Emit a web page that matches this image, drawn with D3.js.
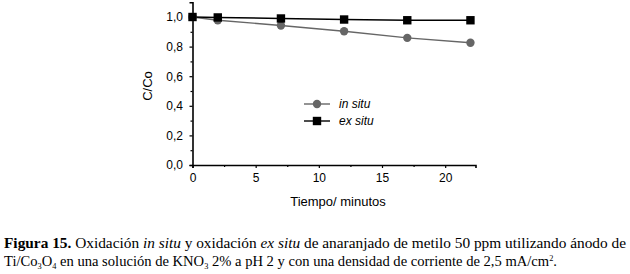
<!DOCTYPE html>
<html><head><meta charset="utf-8">
<script src="https://cdn.jsdelivr.net/npm/d3@7"></script>
<style>body{margin:0;background:#fff}svg{display:block}</style>
</head><body>
<svg id="c" width="630" height="274"></svg>
<script>
const time = [0, 2, 7, 12, 17, 22];
const inSitu = [1.0, 0.978, 0.943, 0.904, 0.859, 0.826];
const exSitu = [1.0, 0.997, 0.99, 0.983, 0.978, 0.978];
const xTicks = [0, 5, 10, 15, 20];
const yTicks = [0, 0.2, 0.4, 0.6, 0.8, 1.0];
const seriesNames = ["in situ", "ex situ"];

const svg = d3.select("#c");
const x = d3.scaleLinear().domain([0, 22.4]).range([192.5, 475.5]);
const y = d3.scaleLinear().domain([0, 1.1]).range([165, 2.2]);
const fmt = d => d3.format(".1f")(d).replace(".", ",");
const sans = "Liberation Sans, Arial, sans-serif";

// axes
const gx = svg.append("g").attr("transform", `translate(0,${y(0)})`)
  .call(d3.axisBottom(x).tickValues(xTicks).tickSize(3).tickFormat(d3.format("d")));
const gxm = svg.append("g").attr("transform", `translate(0,${y(0)})`)
  .call(d3.axisBottom(x).tickValues([2.5, 7.5, 12.5, 17.5]).tickSize(2).tickFormat(""));
const gy = svg.append("g").attr("transform", `translate(${x(0)},0)`)
  .call(d3.axisLeft(y).tickValues(yTicks).tickSize(3).tickFormat(fmt));
const gym = svg.append("g").attr("transform", `translate(${x(0)},0)`)
  .call(d3.axisLeft(y).tickValues([0.1, 0.3, 0.5, 0.7, 0.9]).tickSize(2).tickFormat(""));
[gx, gxm, gy, gym].forEach(g => {
  g.select(".domain").attr("stroke", "#000").attr("stroke-width", 1.6);
  g.selectAll(".tick line").attr("stroke", "#000").attr("stroke-width", 1.2);
  g.selectAll("text").attr("font-family", sans).attr("font-size", 12).attr("fill", "#000");
});
gxm.select(".domain").remove(); gym.select(".domain").remove();
gx.selectAll("text").attr("dy", "0.95em");
gy.selectAll("text").attr("dx", "-0.3em");

// lines
const line = d3.line().x((d, i) => x(time[i])).y(d => y(d));
svg.append("path").datum(inSitu).attr("d", line).attr("fill", "none").attr("stroke", "#666").attr("stroke-width", 1.4);
svg.append("path").datum(exSitu).attr("d", line).attr("fill", "none").attr("stroke", "#000").attr("stroke-width", 1.4);
svg.append("g").selectAll("circle").data(inSitu).join("circle")
  .attr("cx", (d, i) => x(time[i])).attr("cy", d => y(d)).attr("r", 4.2).attr("fill", "#666");
svg.append("g").selectAll("rect").data(exSitu).join("rect")
  .attr("x", (d, i) => x(time[i]) - 4.2).attr("y", d => y(d) - 4.2).attr("width", 8.4).attr("height", 8.4).attr("fill", "#000");

// legend
const lg = svg.append("g");
[[104, "#666", "circle"], [121, "#000", "rect"]].forEach(([ly, col, shape], i) => {
  lg.append("line").attr("x1", 304).attr("x2", 330).attr("y1", ly).attr("y2", ly).attr("stroke", col).attr("stroke-width", 1.4);
  if (shape === "circle") lg.append("circle").attr("cx", 317).attr("cy", ly).attr("r", 4.2).attr("fill", col);
  else lg.append("rect").attr("x", 312.8).attr("y", ly - 4.2).attr("width", 8.4).attr("height", 8.4).attr("fill", col);
  lg.append("text").attr("x", 339).attr("y", ly).attr("dy", "0.35em").attr("font-family", sans)
    .attr("font-size", 12).attr("font-style", "italic").attr("fill", "#000").text(seriesNames[i]);
});

// axis titles
svg.append("text").attr("x", 338).attr("y", 206).attr("text-anchor", "middle").attr("font-family", sans)
  .attr("font-size", 13).attr("fill", "#000").text("Tiempo/ minutos");
svg.append("text").attr("transform", "translate(152,86) rotate(-90)").attr("text-anchor", "middle")
  .attr("font-family", sans).attr("font-size", 13).attr("fill", "#000").text("C/Co");

// caption
const serif = "Liberation Serif, Times New Roman, serif";
const c1 = svg.append("text").attr("x", 4).attr("y", 248).attr("font-family", serif).attr("font-size", 14)
  .attr("fill", "#000").attr("textLength", 622).attr("lengthAdjust", "spacingAndGlyphs");
c1.append("tspan").attr("font-weight", "bold").text("Figura 15.");
c1.append("tspan").text(" Oxidación ");
c1.append("tspan").attr("font-style", "italic").text("in situ");
c1.append("tspan").text(" y oxidación ");
c1.append("tspan").attr("font-style", "italic").text("ex situ");
c1.append("tspan").text(" de anaranjado de metilo 50 ppm utilizando ánodo de");
const c2 = svg.append("text").attr("x", 4).attr("y", 266).attr("font-family", serif).attr("font-size", 14)
  .attr("fill", "#000").attr("textLength", 553).attr("lengthAdjust", "spacingAndGlyphs");
c2.append("tspan").text("Ti/Co");
c2.append("tspan").attr("font-size", 8).attr("dy", 3).text("3");
c2.append("tspan").attr("dy", -3).text("O");
c2.append("tspan").attr("font-size", 8).attr("dy", 3).text("4");
c2.append("tspan").attr("dy", -3).text(" en una solución de KNO");
c2.append("tspan").attr("font-size", 8).attr("dy", 3).text("3");
c2.append("tspan").attr("dy", -3).text(" 2% a pH 2 y con una densidad de corriente de 2,5 mA/cm");
c2.append("tspan").attr("font-size", 8).attr("dy", -5).text("2");
c2.append("tspan").attr("dy", 5).text(".");
</script>
</body></html>
